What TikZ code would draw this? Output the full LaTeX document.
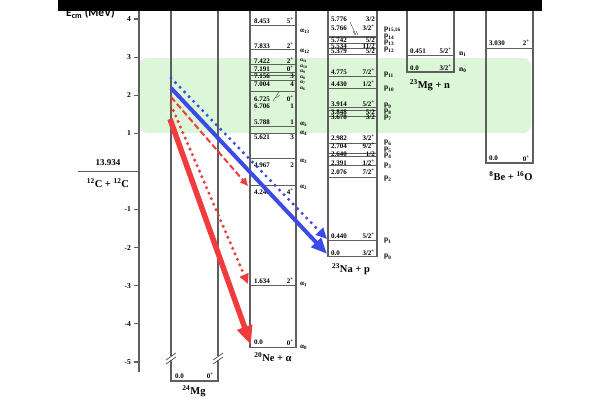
\documentclass[tikz,border=0pt]{standalone}
\usepackage{fontspec}
\setmainfont{Liberation Serif}
\newfontfamily\calib{Carlito}
\usetikzlibrary{arrows.meta}
\definecolor{bandgreen}{RGB}{220,247,215}
\definecolor{axgray}{RGB}{95,95,95}
\definecolor{arred}{RGB}{240,60,60}
\definecolor{arblue}{RGB}{60,75,232}
\newcommand\spup[1]{\textsuperscript{#1}}
\newcommand\lvl[6]{\node[lab,anchor=west] (#1e) at (#2,#4) {#5};\node[lab,anchor=east] (#1s) at (#3,#4) {#6};}
\begin{document}
\begin{tikzpicture}[x=1pt,y=-1pt,
  col/.style={draw=axgray,line width=1.2pt},
  lev/.style={draw=axgray,line width=0.7pt},
  lab/.style={font=\fontsize{7}{7.5}\selectfont\bfseries,inner sep=0pt},
  slab/.style={font=\fontsize{5.3}{5.5}\selectfont\bfseries,inner sep=0pt},
  big/.style={font=\fontsize{10.5}{11}\selectfont\bfseries,inner sep=0pt},
  tick/.style={font=\fontsize{7.5}{8}\selectfont\bfseries,inner sep=0pt},
  plab/.style={font=\fontsize{7.5}{8}\selectfont\bfseries,inner sep=0pt,anchor=west}]
\useasboundingbox[fill=white] (0,0) rectangle (600,400);
% green band
\fill[bandgreen,rounded corners=8pt] (139,58) rectangle (531,133);
% axis
\draw[col] (139,8) -- (139,372);
\foreach \v in {4,3,2,1,-1,-2,-3,-4,-5}{
  \draw[col] (134,171.4-38.1*\v) -- (139,171.4-38.1*\v);
  \node[tick,anchor=east] (t\v) at (131,171.4-38.1*\v) {\v};
}
\draw[col] (78,171.4) -- (139,171.4);
\node[font=\fontsize{9}{9}\selectfont\bfseries,inner sep=0pt] (cth) at (108,163) {13.934};
\node[big] (cc) at (108,183.5) {\spup{12}C + \spup{12}C};
% columns
\draw[col] (171,0) -- (171,381) -- (218,381) -- (218,0);
\draw[col] (250,0) -- (250,347.3) -- (296,347.3) -- (296,0);
\draw[col] (328,0) -- (328,256.8) -- (377,256.8) -- (377,0);
\draw[col] (407,0) -- (407,72) -- (454,72) -- (454,0);
\draw[col] (486,0) -- (486,163) -- (533,163) -- (533,0);
% Mg break marks
\foreach \xx in {171,218}{
  \fill[white] (\xx-2,356) rectangle (\xx+2,360);
  \draw[axgray,line width=0.8pt] (\xx-5,360) -- (\xx+5,353);
  \draw[axgray,line width=0.8pt] (\xx-5,364) -- (\xx+5,357);
}
\node[lab,anchor=west] (mg0e) at (175,376) {0.0};
\node[lab,anchor=east] (mg0s) at (214,376) {0\spup{+}};
\node[big] (mglab) at (194,391.5) {\spup{24}Mg};
% Ne levels
\foreach \yl in {25.2,48.9,64.5,72.5,75,80.5,91.1,126.8,133.1,158.1,185.5,285.1}
  \draw[lev] (250,\yl) -- (296,\yl);
\lvl{na}{254}{294}{21}{8.453}{5\spup{+}}
\lvl{nb}{254}{294}{46}{7.833}{2\spup{+}}
\lvl{nc}{254}{294}{61}{7.422}{2\spup{+}}
\lvl{nd}{254}{294}{69}{7.191}{0\spup{+}}
\lvl{ne}{254}{294}{76}{7.156}{3}
\lvl{nf}{254}{294}{84}{7.004}{4}
\lvl{ng}{254}{294}{99}{6.725}{0\spup{+}}
\lvl{nh}{254}{294}{106}{6.706}{1}
\lvl{ni}{254}{294}{122}{5.788}{1}
\lvl{nj}{254}{294}{137.5}{5.621}{3}
\lvl{nk}{254}{294}{165}{4.967}{2}
\lvl{nl}{254}{294}{192}{4.248}{4\spup{+}}
\lvl{nm}{254}{294}{281}{1.634}{2\spup{+}}
\lvl{nn}{254}{294}{342.5}{0.0}{0\spup{+}}
\draw[axgray,line width=0.5pt] (273,101) -- (279,92);
\draw[axgray,line width=0.5pt] (276,98) -- (280,95);
\foreach \n/\y in {13/31,12/51,5/124,4/133,3/161,2/187,1/284,0/347}
  \node[lab,anchor=west] (al\n) at (300,\y) {α\textsubscript{\n}};
\foreach \n/\y in {11/61,10/66.5,9/72,8/77.5,7/83,6/88.5}
  \node[slab,anchor=west] (al\n) at (300,\y) {α\textsubscript{\n}};
\node[big] (nelab) at (273,357.5) {\spup{20}Ne + α};
% Na levels
\foreach \yl in {36.5,37.5,43,48.5,54,76.5,88,107.7,110.2,116.7,143.2,153.8,156.2,165.7,177.7,240}
  \draw[lev] (328,\yl) -- (377,\yl);
\lvl{pa}{331}{375}{19}{5.776}{3/2}
\lvl{pb}{331}{375}{28}{5.766}{3/2\spup{+}}
\lvl{pc}{331}{375}{40}{5.742}{5/2}
\lvl{pd}{331}{375}{46}{5.534}{11/2}
\lvl{pe}{331}{375}{51.5}{5.379}{5/2}
\lvl{pf}{331}{375}{72}{4.775}{7/2\spup{+}}
\lvl{pg}{331}{375}{84}{4.430}{1/2\spup{+}}
\lvl{ph}{331}{375}{104}{3.914}{5/2\spup{+}}
\lvl{pi}{331}{375}{112}{3.848}{5/2}
\lvl{pj}{331}{375}{117.5}{3.678}{3/2}
\lvl{pk}{331}{375}{138}{2.982}{3/2\spup{+}}
\lvl{pl}{331}{375}{146}{2.704}{9/2\spup{+}}
\lvl{pm}{331}{375}{154}{2.640}{1/2}
\lvl{pn}{331}{375}{163}{2.391}{1/2\spup{+}}
\lvl{po}{331}{375}{172}{2.076}{7/2\spup{+}}
\lvl{pp}{331}{375}{236}{0.440}{5/2\spup{+}}
\lvl{pq}{331}{375}{253}{0.0}{3/2\spup{+}}
\draw[axgray,line width=0.5pt] (350,22) -- (356,35);
\draw[axgray,line width=0.5pt] (353,31) -- (355,35);
\draw[axgray,line width=0.5pt] (356,31) -- (358,35);
\node[plab] (p1516) at (384,30) {p\textsubscript{15,16}};
\foreach \n/\y in {14/37,13/43,12/50,11/75,10/89,9/106,8/112,7/118,6/143,5/150,4/156,3/166,2/179,1/241,0/257}
  \node[plab] (p\n) at (384,\y) {p\textsubscript{\n}};
\node[big] (nalab) at (351,269.5) {\spup{23}Na + p};
% Mg + n
\draw[lev] (407,55) -- (454,55);
\lvl{ma}{410}{452}{51}{0.451}{5/2\spup{+}}
\lvl{mb}{410}{452}{68}{0.0}{3/2\spup{+}}
\node[plab] (n1) at (459,54) {n\textsubscript{1}};
\node[plab] (n0) at (459,70) {n\textsubscript{0}};
\node[big] (mnlab) at (430,85) {\spup{23}Mg + n};
% Be + O
\draw[lev] (486,48) -- (533,48);
\lvl{ba}{489}{530}{43}{3.030}{2\spup{+}}
\lvl{bb}{489}{530}{158.5}{0.0}{0\spup{+}}
\node[big] (belab) at (511,176.5) {\spup{8}Be + \spup{16}O};
% arrows
\coordinate (rs0) at (170,119); \coordinate (rs1) at (251,345);
\coordinate (rt0) at (171,105); \coordinate (rt1) at (248,284);
\coordinate (rd0) at (171,97);  \coordinate (rd1) at (248,186);
\coordinate (bs0) at (171,88);  \coordinate (bs1) at (327,254);
\coordinate (bd0) at (171,78);  \coordinate (bd1) at (327,239);
\draw[arred,line width=5.5pt,-{Triangle[length=19pt,width=15pt]}] (rs0) -- (rs1);
\draw[arred,line width=3.4pt,line cap=round,dash pattern=on 0pt off 6pt,-{Triangle[length=10pt,width=9pt]}] (rt0) -- (rt1);
\draw[arred,line width=2pt,dash pattern=on 6pt off 3pt,-{Triangle[length=8pt,width=7pt]}] (rd0) -- (rd1);
\draw[arblue,line width=4pt,-{Triangle[length=16pt,width=13pt]}] (bs0) -- (bs1);
\draw[arblue,line width=3.4pt,line cap=round,dash pattern=on 0pt off 6.5pt,-{Triangle[length=11pt,width=10pt]}] (bd0) -- (bd1);
% top bar and axis title
\node[font=\fontsize{11.5}{12}\selectfont\calib\bfseries,inner sep=0pt,anchor=base west] (ecm) at (66,16.5) {E\textsubscript{cm} (MeV)};
\fill[black] (58,0) rectangle (542,10.5);
\end{tikzpicture}
\end{document}
